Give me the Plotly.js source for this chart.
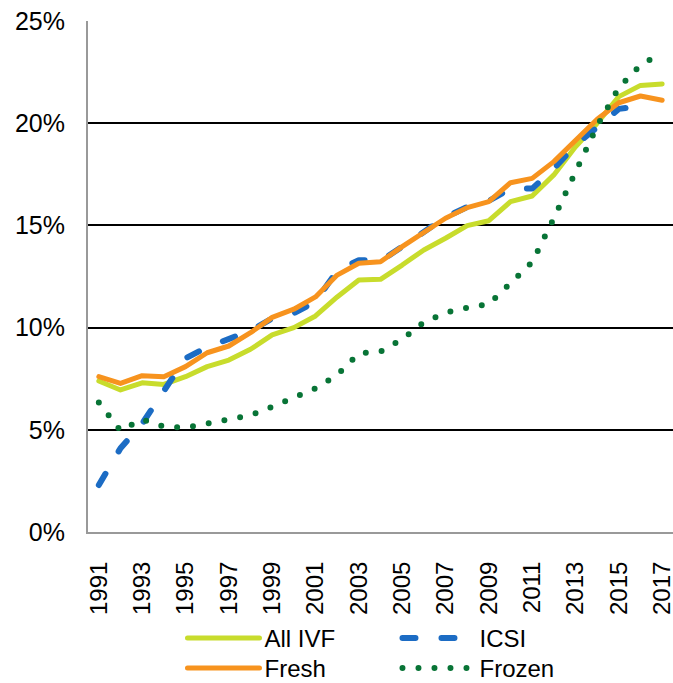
<!DOCTYPE html>
<html>
<head>
<meta charset="utf-8">
<script src="https://cdn.plot.ly/plotly-3.0.1.min.js"></script>
<style>
  html, body { margin: 0; padding: 0; background: #fff; }
  #chart { width: 673px; height: 683px; }
  .js-line, .legendlines path { stroke-linecap: round; stroke-linejoin: round; }
</style>
</head>
<body>
<div id="chart"></div>
<script>
const years = [1991,1992,1993,1994,1995,1996,1997,1998,1999,2000,2001,2002,2003,2004,2005,2006,2007,2008,2009,2010,2011,2012,2013,2014,2015,2016,2017];

const allIVF = [7.39,6.95,7.30,7.22,7.60,8.09,8.41,8.94,9.64,10.00,10.57,11.50,12.33,12.36,13.06,13.80,14.37,14.99,15.23,16.16,16.44,17.47,18.85,20.00,21.30,21.85,21.92];
const icsi   = [2.30,4.10,5.30,6.90,8.50,9.04,9.45,9.85,10.45,10.70,11.27,12.78,13.30,13.26,13.96,14.70,15.40,15.90,16.20,16.80,16.80,17.77,18.93,19.80,20.70,20.83,null];
const fresh  = [7.60,7.27,7.65,7.60,8.09,8.77,9.10,9.75,10.50,10.90,11.50,12.57,13.15,13.22,13.96,14.69,15.35,15.87,16.16,17.09,17.30,18.12,19.18,20.19,21.00,21.33,21.12];
const frozen = [6.33,4.96,5.51,5.15,5.10,5.28,5.51,5.71,6.13,6.62,7.03,7.68,8.74,8.82,9.43,10.26,10.73,10.97,11.15,12.17,13.20,15.35,17.55,19.86,21.74,22.85,23.42];

const tickYears = [1991,1993,1995,1997,1999,2001,2003,2005,2007,2009,2011,2013,2015,2017];
const yTicks = [0,5,10,15,20,25];
const yTickText = ['0%','5%','10%','15%','20%','25%'];

const FONT = '"Liberation Sans", Arial, Helvetica, sans-serif';

const traces = [
  {x: years, y: allIVF, name: 'All IVF', mode: 'lines', legend: 'legend', line: {color: '#C8DC2C', width: 5}},
  {x: years, y: icsi, name: 'ICSI', mode: 'lines', legend: 'legend', line: {color: '#1C6CC4', width: 6, dash: '13px,26px'}},
  {x: years, y: fresh, name: 'Fresh', mode: 'lines', legend: 'legend2', line: {color: '#F7931E', width: 5}},
  {x: years, y: frozen, name: 'Frozen', mode: 'lines', legend: 'legend2', line: {color: '#087436', width: 6, dash: '0px,16px'}}
];

const legendBase = {
  orientation: 'h', xanchor: 'left', yanchor: 'top',
  itemwidth: 72, entrywidth: 128, entrywidthmode: 'pixels',
  font: {family: FONT, size: 24, color: '#000'},
  traceorder: 'normal', bgcolor: 'rgba(0,0,0,0)'
};

const layout = {
  width: 673, height: 683,
  margin: {l: 88, r: 0, t: 21, b: 151, autoexpand: false},
  paper_bgcolor: '#fff', plot_bgcolor: '#fff',
  font: {family: FONT, size: 24, color: '#000'},
  showlegend: true,
  legend: Object.assign({}, legendBase, {x: 0.1615, y: -0.1644}),
  legend2: Object.assign({}, legendBase, {x: 0.1615, y: -0.2231}),
  xaxis: {
    range: [1990.5, 2017.5], tickmode: 'array', tickvals: tickYears, ticktext: tickYears.map(String),
    tickangle: -90, showgrid: false, zeroline: false, showline: true, linecolor: '#999', linewidth: 2,
    ticks: '', ticklabelstandoff: 18, ticklabeloverflow: 'allow',
    tickfont: {family: FONT, size: 24, color: '#000'}, fixedrange: true
  },
  yaxis: {
    range: [0, 25], tickmode: 'array', tickvals: yTicks, ticktext: yTickText,
    showgrid: true, gridcolor: '#000', gridwidth: 2, zeroline: false,
    showline: true, linecolor: '#999', linewidth: 2, ticks: '', ticklabelstandoff: 16,
    ticklabeloverflow: 'allow',
    tickfont: {family: FONT, size: 25, color: '#000'}, fixedrange: true
  }
};

Plotly.newPlot('chart', traces, layout, {staticPlot: true, displayModeBar: false});
</script>
</body>
</html>
